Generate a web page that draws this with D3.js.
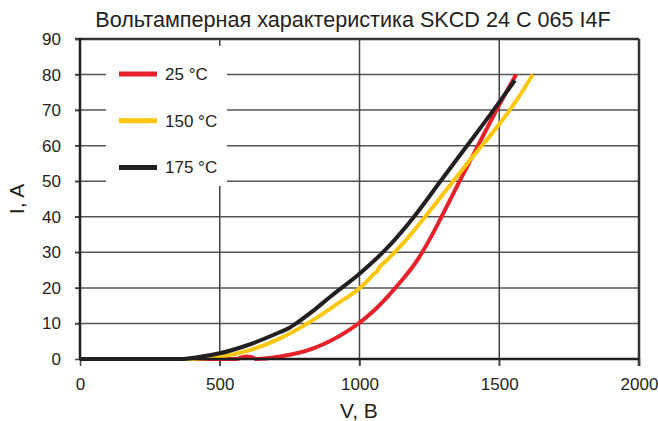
<!DOCTYPE html>
<html>
<head>
<meta charset="utf-8">
<script src="https://cdn.jsdelivr.net/npm/d3@7"></script>
<style>
body { margin: 0; background: #fff; }
svg { display: block; font-family: "Liberation Sans", Arial, sans-serif; }
</style>
</head>
<body>
<svg class="chart" width="658" height="421"></svg>
<script>
var width = 658,
	height = 421;

var xTicks = [0, 500, 1000, 1500, 2000];
var yTicks = [0, 10, 20, 30, 40, 50, 60, 70, 80, 90];

var seriesNames = ['25 °C', '150 °C', '175 °C'];
var seriesColors = ['#e8212b', '#fdc70c', '#231f20'];

// 25 °C
var v25 = [0, 489, 560, 580, 597, 614, 632, 716, 835, 954, 1000, 1050, 1100, 1150, 1200, 1250, 1300, 1360, 1420, 1480, 1560];
var i25 = [0, 0, 0, 0.5, 0.7, 0.5, 0, 0.7, 3, 7.7, 10.2, 13.5, 17.5, 22, 27, 33.5, 41, 50.3, 59.4, 68.5, 80];
// 150 °C
var v150 = [0, 400, 450, 500, 596, 716, 835, 920, 1000, 1031, 1055, 1063, 1070, 1090, 1150, 1240, 1320, 1406, 1500, 1560, 1620];
var i150 = [0, 0, 0.2, 0.6, 2.2, 5.8, 11, 15.5, 19.9, 22.2, 24.2, 24.6, 25.7, 27.2, 32, 40.5, 48.5, 57, 66, 72.5, 80];
// 175 °C
var v175 = [0, 360, 420, 500, 596, 716, 750, 760, 835, 900, 1000, 1100, 1200, 1285, 1380, 1475, 1556];
var i175 = [0, 0, 0.5, 1.6, 3.8, 7.6, 8.8, 9.3, 13.6, 17.8, 24, 31.3, 40.5, 49.5, 59.5, 69.5, 78.4];

var seriesV = [v25, v150, v175];
var seriesI = [i25, i150, i175];

var plotLeft = 80, plotRight = 639, plotTop = 39, plotBottom = 359;

var xScale = d3.scaleLinear().domain([0, 2000]).range([plotLeft, plotRight]);
var yScale = d3.scaleLinear().domain([0, 90]).range([plotBottom, plotTop]);

var chart = d3.select('.chart');

//Title
chart.append('text')
	.text('Вольтамперная характеристика SKCD 24 C 065 I4F')
	.attr('x', 353)
	.attr('y', 27)
	.attr('text-anchor', 'middle')
	.attr('font-size', 21.6)
	.attr('fill', '#231f20');

//Grid
chart.append('g')
	.selectAll('line')
	.data(yTicks.slice(1))
	.enter()
	.append('line')
	.attr('x1', plotLeft - 5)
	.attr('x2', plotRight)
	.attr('y1', d => yScale(d))
	.attr('y2', d => yScale(d))
	.attr('stroke', d => d === 90 ? '#333' : '#555')
	.attr('stroke-width', d => d === 90 ? 2.5 : 1.5);

chart.append('g')
	.selectAll('line')
	.data(xTicks.slice(1))
	.enter()
	.append('line')
	.attr('x1', d => xScale(d))
	.attr('x2', d => xScale(d))
	.attr('y1', plotTop)
	.attr('y2', plotBottom + 7)
	.attr('stroke', d => d === 2000 ? '#333' : '#444')
	.attr('stroke-width', d => d === 2000 ? 2.5 : 1.5);

//Legend box (covers grid)
chart.append('rect')
	.attr('x', 106)
	.attr('y', 46)
	.attr('width', 121)
	.attr('height', 140)
	.attr('fill', '#fff');

//Axes
var xAxisGen = d3.axisBottom(xScale).tickValues(xTicks).tickSize(7).tickPadding(12).tickFormat(d3.format('d'));
var yAxisGen = d3.axisLeft(yScale).tickValues(yTicks).tickSize(5).tickPadding(14);

var xAxis = chart.append('g')
	.attr('transform', 'translate(0,' + plotBottom + ')')
	.call(xAxisGen);
var yAxis = chart.append('g')
	.attr('transform', 'translate(' + plotLeft + ',0)')
	.call(yAxisGen);

[xAxis, yAxis].forEach(function(ax) {
	ax.select('.domain').remove();
	ax.selectAll('text').attr('font-size', 17).attr('fill', '#231f20').attr('font-family', '"Liberation Sans", Arial, sans-serif');
	ax.selectAll('line').attr('stroke', '#444').attr('stroke-width', 1.5);
});

//Lines
var line = d3.line()
	.x(d => xScale(d[0]))
	.y(d => yScale(d[1]))
	.curve(d3.curveMonotoneX);

seriesV.forEach(function(vs, k) {
	var pts = vs.map((v, j) => [v, seriesI[k][j]]);
	chart.append('path')
		.datum(pts)
		.attr('d', line)
		.attr('fill', 'none')
		.attr('stroke', seriesColors[k])
		.attr('stroke-width', 4);
});

//Axis lines on top
chart.append('line')
	.attr('x1', plotLeft).attr('x2', plotLeft)
	.attr('y1', plotTop - 1).attr('y2', plotBottom + 1)
	.attr('stroke', '#231f20').attr('stroke-width', 2.5);
chart.append('line')
	.attr('x1', plotLeft - 1).attr('x2', plotRight)
	.attr('y1', plotBottom).attr('y2', plotBottom)
	.attr('stroke', '#231f20').attr('stroke-width', 2.5);

//Legend
var legend = chart.append('g')
	.selectAll('g')
	.data(seriesNames)
	.enter()
	.append('g')
	.attr('transform', (d, i) => 'translate(119,' + (74 + i * 46.7) + ')');

legend.append('line')
	.attr('x1', 0).attr('x2', 38)
	.attr('stroke', (d, i) => seriesColors[i])
	.attr('stroke-width', 5);

legend.append('text')
	.text(d => d)
	.attr('x', 46)
	.attr('y', 6)
	.attr('font-size', 17)
	.attr('fill', '#231f20');

//Axis labels
chart.append('text')
	.text('V, B')
	.attr('x', 359)
	.attr('y', 418)
	.attr('text-anchor', 'middle')
	.attr('font-size', 21)
	.attr('fill', '#231f20');

chart.append('text')
	.text('I, A')
	.attr('transform', 'translate(24,199) rotate(-90)')
	.attr('text-anchor', 'middle')
	.attr('font-size', 21)
	.attr('fill', '#231f20');
</script>
</body>
</html>
